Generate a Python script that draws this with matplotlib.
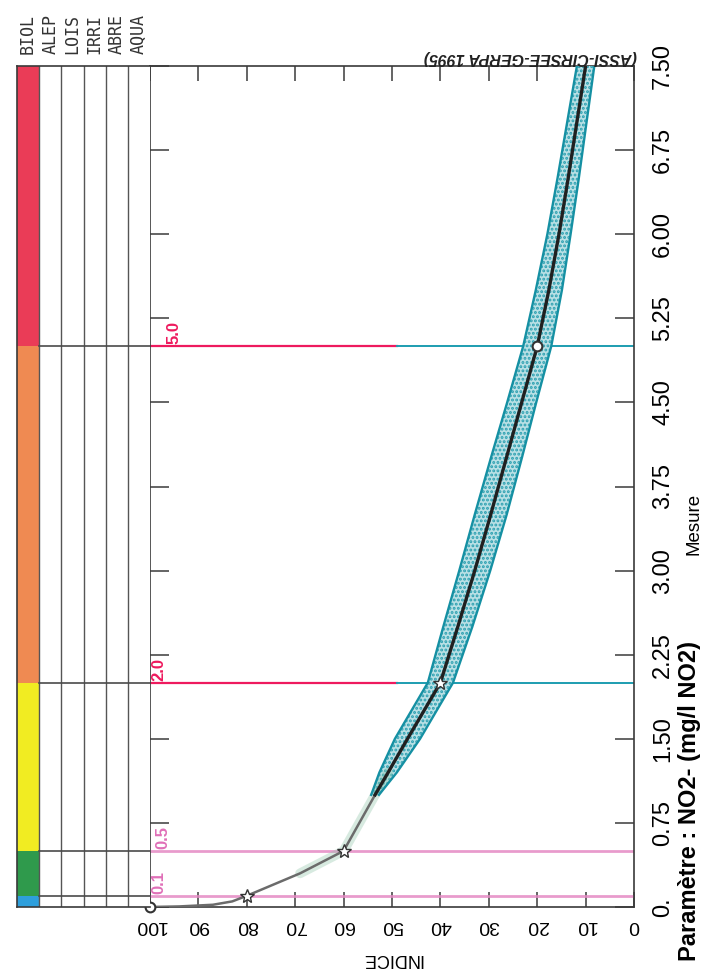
import matplotlib
matplotlib.use("Agg")
import matplotlib.pyplot as plt

# ---------------- data ----------------
mesure_ticks = [0, 0.75, 1.5, 2.25, 3.0, 3.75, 4.5, 5.25, 6.0, 6.75, 7.5]
mesure_labels = ["0.", "0.75", "1.50", "2.25", "3.00", "3.75", "4.50", "5.25", "6.00", "6.75", "7.50"]
indice_ticks = [0, 10, 20, 30, 40, 50, 60, 70, 80, 90, 100]
indice_labels = ["0", "10", "20", "30", "40", "50", "60", "70", "80", "90", "100"]

# response curve (Mesure -> INDICE)
curve_mesure = [0, 0.005, 0.02, 0.05, 0.1, 0.3, 0.5, 1.0, 1.2, 1.5, 2.0, 2.5, 3.0, 3.5,
                4.0, 4.5, 5.0, 5.5, 6.0, 6.5, 7.0, 7.5]
curve_indice = [100, 94, 87, 83, 80, 69, 60, 53.5, 50.8, 46.8, 40, 36.4, 32.9, 29.6,
                26.4, 23.2, 20.0, 17.6, 15.5, 13.6, 11.8, 10.0]

# uncertainty band
band_mesure = [1.0, 1.2, 1.5, 2.0, 2.5, 3.0, 3.5, 4.0, 4.5, 5.0, 5.5, 6.0, 6.5, 7.0, 7.5]
band_lo = [52.7, 49.0, 44.2, 37.4, 33.4, 29.7, 26.3, 23.2, 20.2, 17.1, 14.9, 13.1, 11.4, 9.8, 8.2]
band_hi = [54.3, 52.6, 49.4, 42.6, 39.4, 36.1, 32.9, 29.6, 26.2, 22.9, 20.3, 17.9, 15.8, 13.8, 11.8]

# key points
key_mesure = [0.1, 0.5, 2.0]
key_indice = [80, 60, 40]
circ_mesure = [0, 5.0]
circ_indice = [100, 20]

# class thresholds and colours
thresholds = [0.1, 0.5, 2.0, 5.0]
threshold_labels = ["0.1", "0.5", "2.0", "5.0"]
class_bounds = [0, 0.1, 0.5, 2.0, 5.0, 7.5]
class_colors = ["#2e9fdc", "#2f9a4c", "#f1ec22", "#ef8a52", "#ea3c57"]
columns = ["BIOL", "ALEP", "LOIS", "IRRI", "ABRE", "AQUA"]

# ---------------- figure ----------------
W, H = 703, 969
fig = plt.figure(figsize=(W / 100, H / 100), dpi=100)
fig.patch.set_facecolor("white")
plt.rcParams["hatch.linewidth"] = 1.4

left_px, right_px, top_px, bot_px = 150, 634, 66, 907
ax = fig.add_axes([left_px / W, 1 - bot_px / H, (right_px - left_px) / W, (bot_px - top_px) / H])
ax.set_xlim(100, 0)
ax.set_ylim(0, 7.5)

frame_col = "#3a3a3a"
for s in ax.spines.values():
    s.set_color(frame_col)
    s.set_linewidth(1.2)

# threshold lines
pink = "#e58ac4"
red = "#ee1a5e"
teal = "#1d9db0"
label_offsets = [1, 4, 1, 12]
for t, lab, off in zip(thresholds, threshold_labels, label_offsets):
    if t < 1:
        ax.plot([100, 0], [t, t], color=pink, lw=2.0, alpha=0.85, zorder=2)
        lc = "#e070b8"
    else:
        ax.plot([100, 49], [t, t], color=red, lw=1.6, zorder=2)
        ax.plot([49, 0], [t, t], color=teal, lw=1.4, zorder=2)
        lc = red
    ax.annotate(lab, xy=(100, t), xycoords="data", xytext=(off, 1.5),
                textcoords="offset points", rotation=90, ha="left", va="bottom",
                color=lc, fontsize=12, fontweight="bold", family="Liberation Sans")

# band
ax.fill_betweenx(band_mesure, band_lo, band_hi, facecolor="#b9e0e5", edgecolor="#2a9fb0",
                 hatch="....", linewidth=0, zorder=3)
ax.plot(band_lo, band_mesure, color="#1590a3", lw=1.7, zorder=4)
ax.plot(band_hi, band_mesure, color="#1590a3", lw=1.7, zorder=4)

# curve: grey low part, black upper part
n_grey = curve_mesure.index(1.0) + 1
ax.plot(curve_indice[5:n_grey + 1], curve_mesure[5:n_grey + 1], color="#8fc4a8", lw=7,
        alpha=0.35, solid_capstyle="round", zorder=3)
ax.plot(curve_indice[:n_grey], curve_mesure[:n_grey], color="#6b6b6b", lw=1.8, zorder=5)
ax.plot(curve_indice[n_grey - 1:], curve_mesure[n_grey - 1:], color="#202020", lw=2.4, zorder=5)
ax.plot(key_indice, key_mesure, linestyle="none", marker="*", ms=10, mfc="white",
        mec="#333333", mew=1.0, zorder=6)
ax.plot(circ_indice, circ_mesure, linestyle="none", marker="o", ms=7, mfc="white",
        mec="#333333", mew=1.5, zorder=6, clip_on=False)

# ticks
ax.set_yticks(mesure_ticks)
ax.set_yticklabels(mesure_labels)
ax.set_xticks(indice_ticks)
ax.set_xticklabels(indice_labels)
ax.tick_params(axis="y", left=True, right=True, labelleft=False, labelright=True,
               direction="in", length=14, width=1.1, color=frame_col, pad=13,
               labelsize=17, labelrotation=90)
ax.tick_params(axis="x", bottom=True, top=True, labelbottom=True, labeltop=False,
               direction="in", length=11, width=1.1, color=frame_col, pad=7,
               labelsize=14, labelrotation=180)
for lab in ax.get_yticklabels():
    lab.set_family("Liberation Sans")
    lab.set_va("center")
    lab.set_ha("left")
for lab in ax.get_xticklabels():
    lab.set_family("Liberation Sans")
    lab.set_ha("center")
    lab.set_va("top")

# ---------------- columns area ----------------
cl_px = 17
cax = fig.add_axes([cl_px / W, 1 - bot_px / H, (left_px - cl_px) / W, (bot_px - top_px) / H])
cax.set_xlim(0, 6)
cax.set_ylim(0, 7.5)
cax.set_xticks([])
cax.set_yticks([])
for name in ["top", "bottom", "left"]:
    cax.spines[name].set_color(frame_col)
    cax.spines[name].set_linewidth(1.2)
cax.spines["right"].set_visible(False)
for lo, hi, c in zip(class_bounds[:-1], class_bounds[1:], class_colors):
    cax.fill_between([0, 1], [lo, lo], [hi, hi], color=c, lw=0)
for i in range(1, 6):
    cax.plot([i, i], [0, 7.5], color="#555555", lw=1.0)
for t in thresholds:
    cax.plot([1, 6], [t, t], color="#4a4a4a", lw=1.2)
for i, name in enumerate(columns):
    cax.annotate(name, xy=(i + 0.5, 1), xycoords=("data", "axes fraction"),
                 xytext=(0, 9), textcoords="offset points", rotation=90,
                 ha="center", va="bottom", fontsize=12, family="DejaVu Sans Mono",
                 color="#333333")

# ---------------- texts ----------------
fig.text(637 / W, 1 - (top_px - 1) / H, "(ASSI-CIRSEE-GERPA 1995)", rotation=180,
         ha="right", va="bottom", fontsize=11.5, fontweight="bold", style="italic",
         family="Liberation Sans", color="#222222")
fig.text(((left_px + right_px) / 2) / W, 1 - 959 / H, "INDICE", rotation=180,
         ha="center", va="center", fontsize=13, family="Liberation Sans")
fig.text(694 / W, 1 - 524 / H, "Mesure", rotation=90, ha="center", va="center",
         fontsize=13.5, family="Liberation Sans")
fig.text(701 / W, 8 / H, "Paramètre : NO2- (mg/l NO2)", rotation=90, ha="right",
         va="bottom", fontsize=17, fontweight="bold", family="Liberation Sans")

fig.savefig("out.png", dpi=100, facecolor="white")
